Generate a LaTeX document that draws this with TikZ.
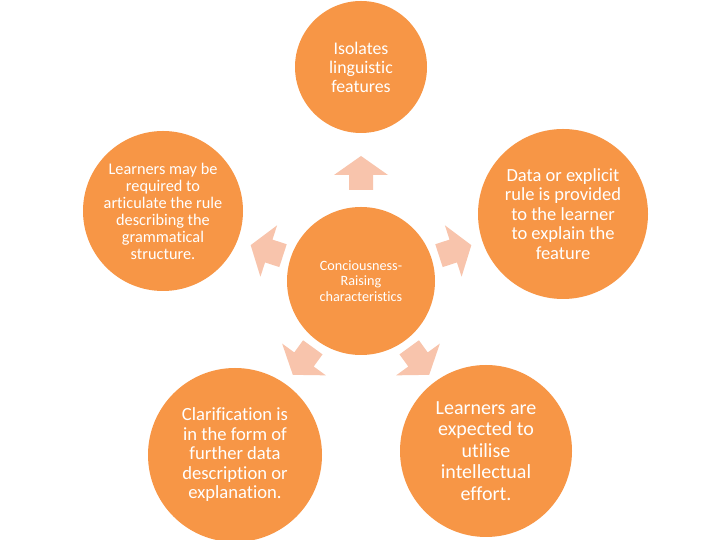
\documentclass[tikz,border=0pt]{standalone}
\usepackage{fontspec}
\setmainfont{Carlito}[Ligatures=CommonOff]
\usepackage{tikz}
\definecolor{bubble}{HTML}{F79646}
\definecolor{pale}{HTML}{F8C4AC}

\begin{document}
\begin{tikzpicture}[x=1pt,y=1pt]
  \tikzstyle{every node} = [circle,fill=bubble,text=white,align=center,inner sep=0pt]
  \tikzstyle{pointer} = [fill=pale]

  \fill[white] (0,0) rectangle (720,540);
  \useasboundingbox (0,0) rectangle (720,540);

  \node[minimum size=148pt,font=\fontsize{14.2}{15.5}\selectfont] (core) at (361,259)
    {Conciousness-\\Raising\\characteristics};

  \node[minimum size=132pt,font=\fontsize{17.8}{19}\selectfont] (isolates) at (361,473)
    {Isolates\\linguistic\\features};
  \node[minimum size=170pt,font=\fontsize{18.5}{19.5}\selectfont] (data) at (563,326)
    {Data or explicit\\rule is provided\\to the learner\\to explain the\\feature};
  \node[minimum size=172pt,font=\fontsize{20}{21.5}\selectfont] (effort) at (486,89)
    {Learners are\\expected to\\utilise\\intellectual\\effort.};
  \node[minimum size=174pt,font=\fontsize{18.6}{19.5}\selectfont] (clarify) at (235,85)
    {Clarification is\\in the form of\\further data\\description or\\explanation.};
  \node[minimum size=160pt,font=\fontsize{16.3}{17}\selectfont] (articulate) at (163,329)
    {Learners may be\\required to\\articulate the rule\\describing the\\grammatical\\structure.};

  % block arrows pointing out of the centre
  \foreach \ang/\dist in {90/108,18/99,-54/99,-126/99,162/99} {
    \begin{scope}[shift={(core.center)},rotate=\ang-90,shift={(0,\dist)}]
      \fill[pointer] (0,17) -- (27,-2) -- (12,-2) -- (12,-17)
        -- (-12,-17) -- (-12,-2) -- (-27,-2) -- cycle;
    \end{scope}
  }

\end{tikzpicture}
\end{document}
